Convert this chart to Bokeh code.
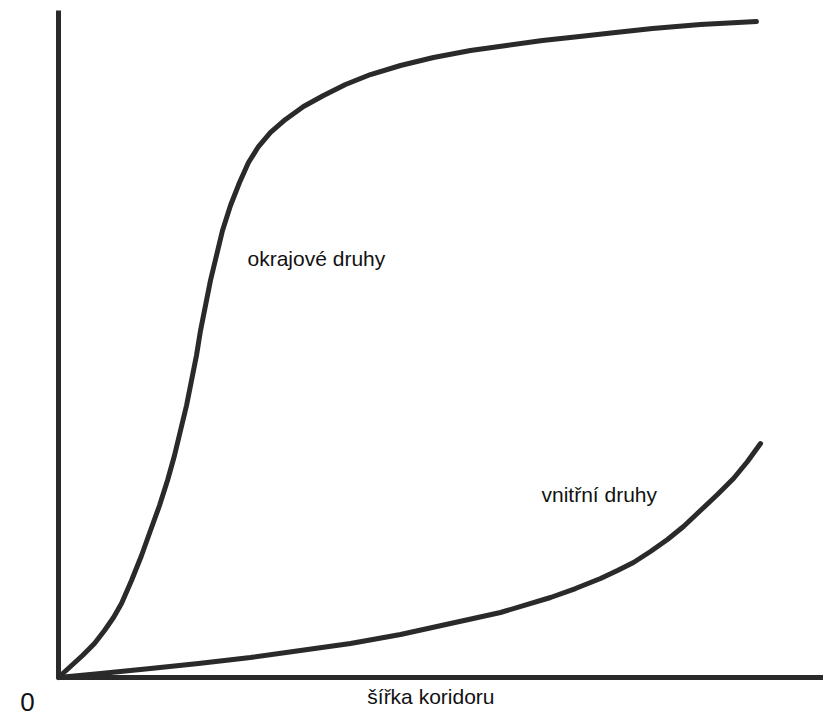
from bokeh.plotting import figure
from bokeh.models import Range1d, Label, FixedTicker, LinearAxis
from bokeh.embed import file_html
from bokeh.resources import INLINE

# okrajové druhy (edge species), relative units 0..100
edge_x = [0.0, 1.71, 3.43, 5.14, 6.57, 7.86, 9.0, 10.43, 11.86, 13.14, 14.43, 15.57, 16.57, 17.43,
          18.29, 19.0, 19.71, 20.29, 21.0, 21.71, 22.57, 23.43, 24.57, 25.86, 27.14, 28.57,
          30.29, 32.43, 35.0, 37.86, 41.0, 44.57, 48.86, 53.57, 58.86, 64.0, 69.14, 74.43,
          79.57, 84.86, 91.71, 99.71]
edge_y = [0.0, 1.67, 3.33, 5.15, 7.12, 9.09, 11.21, 14.70, 18.48, 22.27, 26.06, 29.85, 33.64, 37.42,
          41.21, 45.0, 48.79, 52.58, 56.36, 60.15, 63.94, 67.73, 71.52, 75.0, 78.03, 80.45,
          82.58, 84.55, 86.52, 88.18, 89.85, 91.36, 92.73, 93.94, 95.0, 95.76, 96.52, 97.12,
          97.73, 98.33, 98.94, 99.39]

# vnitřní druhy (interior species)
inner_x = [0.0, 6.0, 13.14, 20.0, 27.43, 34.57, 41.71, 48.86, 56.0, 63.14, 70.29, 73.86, 77.43,
           79.86, 82.14, 84.57, 87.0, 89.29, 91.71, 94.14, 96.43, 98.43, 100.29]
inner_y = [0.0, 0.61, 1.36, 2.12, 3.03, 4.09, 5.15, 6.52, 8.18, 9.85, 12.12, 13.48, 15.0,
           16.21, 17.42, 19.09, 20.91, 22.88, 25.30, 27.73, 30.15, 32.73, 35.45]

labels_text = ["okrajové druhy", "vnitřní druhy"]
labels_x = [27.0, 69.0]
labels_y = [63.5, 27.7]

x_title = "šířka koridoru"
origin_text = "0"

INK = "#2a2a2a"
TXT = "#111111"
FONT = "Liberation Sans"

X_MIN, X_MAX = -8.286, 109.286
Y_MIN, Y_MAX = -6.061, 102.576
Y_AXIS_TOP = 101.06

p = figure(width=823, height=717, output_backend="svg", toolbar_location=None,
           x_range=Range1d(X_MIN, X_MAX), y_range=Range1d(Y_MIN, Y_MAX),
           min_border=0, min_border_left=0, min_border_right=0,
           min_border_top=0, min_border_bottom=0,
           background_fill_color="white", border_fill_color="white")
p.outline_line_color = None
p.xgrid.visible = False
p.ygrid.visible = False
p.xaxis.visible = False
p.yaxis.visible = False


def make_axis(bounds):
    ax = LinearAxis(fixed_location=0, bounds=bounds, ticker=FixedTicker(ticks=[]))
    ax.major_tick_line_color = None
    ax.minor_tick_line_color = None
    ax.major_label_text_font_size = "0px"
    ax.major_tick_out = 0
    ax.major_tick_in = 0
    ax.minor_tick_out = 0
    ax.minor_tick_in = 0
    ax.major_label_standoff = 0
    ax.axis_line_width = 5
    ax.axis_line_color = INK
    return ax


p.add_layout(make_axis((0, X_MAX)), "below")
p.add_layout(make_axis((0, Y_AXIS_TOP)), "left")

p.line(edge_x, edge_y, line_width=5, line_color=INK, line_cap="round", line_join="round")
p.line(inner_x, inner_y, line_width=5, line_color=INK, line_cap="round", line_join="round")

for t, x, y in zip(labels_text, labels_x, labels_y):
    p.add_layout(Label(x=x, y=y, text=t, text_font=FONT, text_font_size="21px",
                       text_color=TXT, text_align="left", text_baseline="middle"))

p.add_layout(Label(x=53.2, y=-2.88, text=x_title, text_font=FONT, text_font_size="21px",
                   text_color=TXT, text_align="center", text_baseline="middle"))

p.add_layout(Label(x=-4.43, y=-3.75, text=origin_text, text_font=FONT, text_font_size="26px",
                   text_color=TXT, text_align="center", text_baseline="middle"))

open("out.html", "w").write(file_html(p, INLINE))
